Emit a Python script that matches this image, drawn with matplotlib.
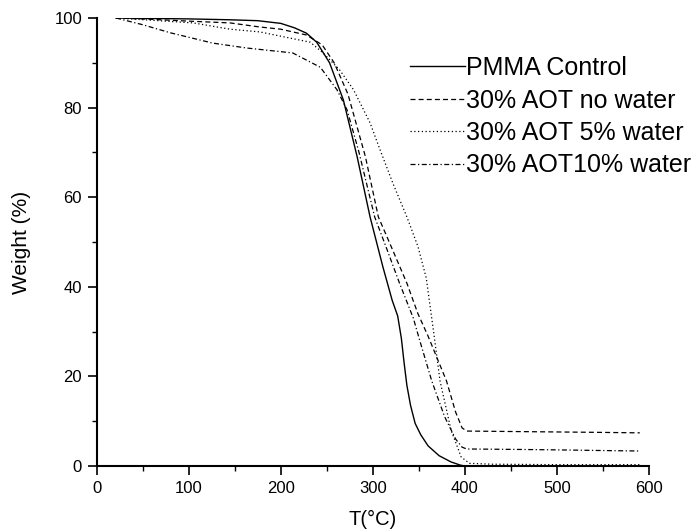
import matplotlib
matplotlib.use('Agg')
import matplotlib.pyplot as plt
from matplotlib.ticker import MultipleLocator

plt.rcParams['font.family'] = ['Liberation Sans', 'DejaVu Sans']

# PMMA Control
t_pmma = [21, 60, 100, 145, 175, 200, 215, 228, 239, 253, 268, 283, 297, 311, 321,
          327, 331, 334, 337, 341, 346, 352, 360, 372, 385, 395, 400]
w_pmma = [100, 99.9, 99.8, 99.6, 99.4, 98.8, 97.8, 96.6, 94.6, 90, 81.7, 69, 55.6, 44.4, 37,
          33.5, 28.5, 23, 18, 13.5, 9.5, 7, 4.5, 2.3, 0.9, 0.2, 0]
# 30% AOT no water
t_now = [21, 60, 100, 145, 177, 200, 228, 245, 258, 273, 292, 306, 322, 337, 349,
         360, 370, 380, 390, 397, 402, 450, 500, 550, 590]
w_now = [100, 99.7, 99.3, 98.9, 98, 97.5, 96.2, 94, 90, 83, 69, 55.6, 48, 40.8, 34,
         29, 24, 19, 12, 8.5, 7.8, 7.7, 7.6, 7.5, 7.4]
# 30% AOT 5% water
t_5 = [21, 60, 105, 145, 177, 232, 246, 264, 279, 297, 308, 322, 337, 349, 358,
       366, 373, 385, 396, 405, 430, 500, 590]
w_5 = [100, 99.5, 98.9, 97.5, 96.9, 94.6, 92.2, 88.4, 84, 76.6, 70.5, 63, 55.6, 49, 42,
       30, 19, 8, 2, 0.6, 0.4, 0.3, 0.3]
# 30% AOT 10% water
t_10 = [21, 50, 80, 126, 163, 213, 243, 261, 272, 285, 302, 316, 329, 344, 351,
        364, 378, 390, 397, 402, 457, 500, 550, 590]
w_10 = [100, 98.5, 96.7, 94.4, 93.3, 92.2, 89, 84, 79.5, 70, 55.6, 48, 40.8, 33, 28,
        19, 11, 6, 4.2, 3.8, 3.7, 3.6, 3.45, 3.35]

labels = ['PMMA Control', '30% AOT no water', '30% AOT 5% water', '30% AOT10% water']

fig = plt.figure(figsize=(6.97, 5.31), dpi=100)
ax = fig.add_axes([0.1387, 0.1224, 0.7924, 0.8437])

ax.plot(t_pmma, w_pmma, color='k', lw=1.0, ls='-', label=labels[0])
ax.plot(t_now, w_now, color='k', lw=0.9, ls=(0, (4, 2.5)), label=labels[1])
ax.plot(t_5, w_5, color='k', lw=0.9, ls=(0, (1, 2)), label=labels[2])
ax.plot(t_10, w_10, color='k', lw=0.9, ls=(0, (4, 2, 1, 2)), label=labels[3])

ax.set_xlim(0, 600)
ax.set_ylim(0, 100)
ax.xaxis.set_major_locator(MultipleLocator(100))
ax.xaxis.set_minor_locator(MultipleLocator(50))
ax.yaxis.set_major_locator(MultipleLocator(20))
ax.yaxis.set_minor_locator(MultipleLocator(10))

for s in ['top', 'right']:
    ax.spines[s].set_visible(False)
for s in ['left', 'bottom']:
    ax.spines[s].set_linewidth(1.5)
ax.tick_params(which='major', direction='out', length=6.5, width=1.2, labelsize=12, pad=4)
ax.tick_params(which='minor', direction='out', length=3.5, width=1.0)

ax.set_xlabel('T(°C)', fontsize=14.5, labelpad=10)
ax.set_ylabel('Weight (%)', fontsize=15, labelpad=17)

ax.legend(loc='upper left', bbox_to_anchor=(410 / 697, 1 - 56 / 531),
          bbox_transform=fig.transFigure, frameon=False, fontsize=18,
          handlelength=2.2, handletextpad=0.05, labelspacing=0.34,
          borderpad=0, borderaxespad=0)

fig.savefig('out.png', dpi=100)
